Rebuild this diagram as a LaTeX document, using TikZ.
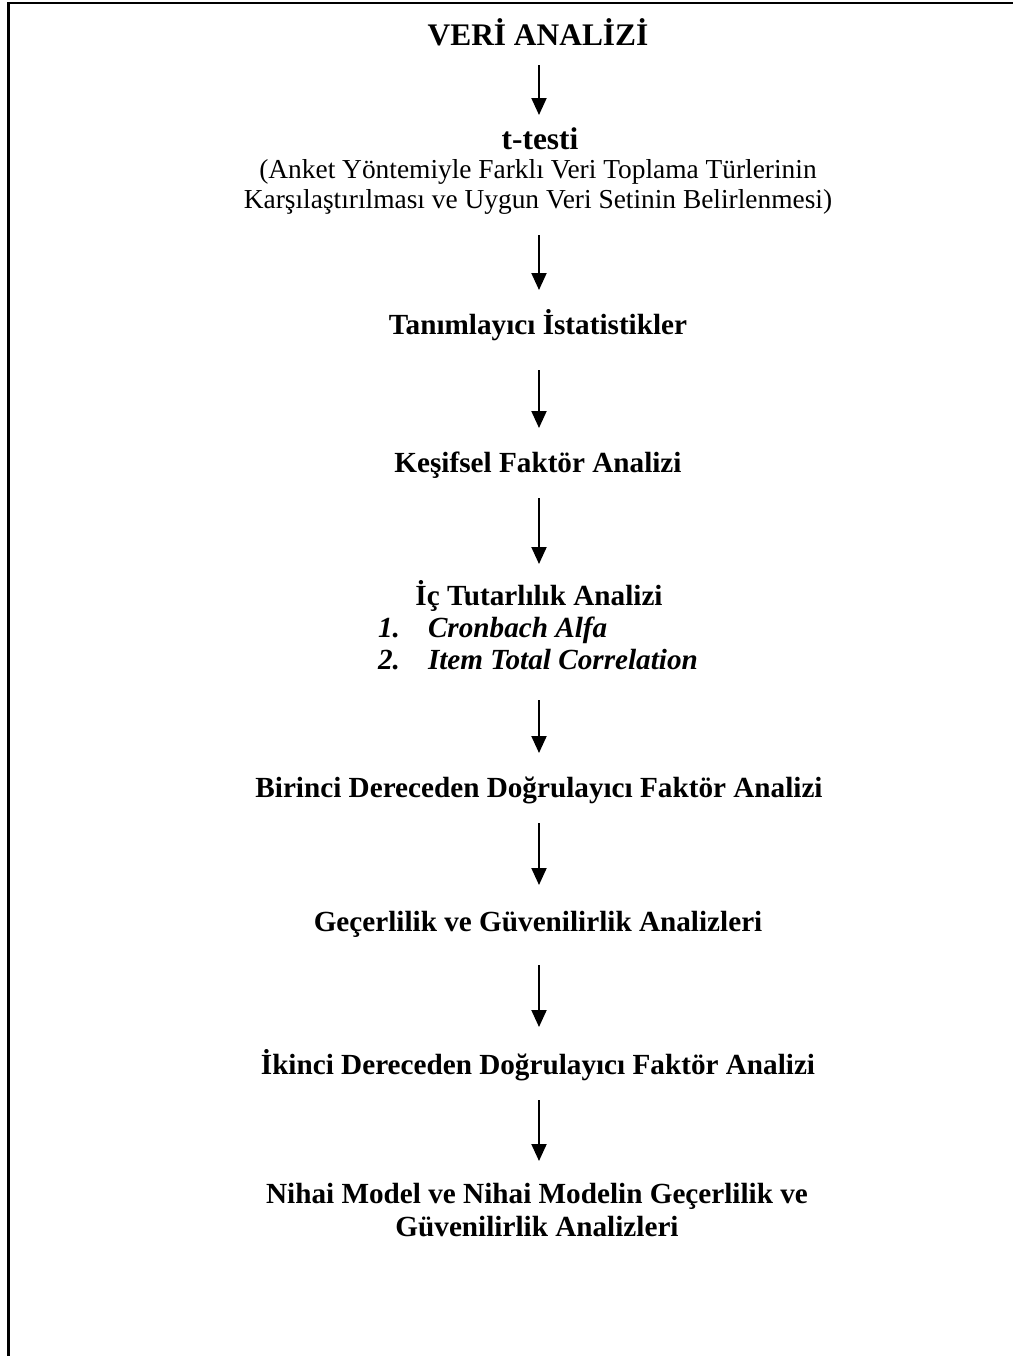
\documentclass[tikz,border=0pt]{standalone}
\usepackage{fontspec}
\setmainfont{Liberation Serif}
\usetikzlibrary{arrows.meta}

\begin{document}
\begin{tikzpicture}[x=0.5pt,y=-0.5pt,
  every node/.style={inner sep=0pt,outer sep=0pt},
  headtext/.style={anchor=base,font=\fontsize{15.7}{18}\selectfont\bfseries},
  steptext/.style={anchor=base,align=center,font=\fontsize{14.6}{16.5}\selectfont\bfseries},
  notetext/.style={anchor=base,align=center,font=\fontsize{13.7}{15}\selectfont},
  itemtext/.style={anchor=base west,font=\fontsize{14.6}{16.5}\selectfont\bfseries\itshape},
  flow/.style={line width=1pt,-{Triangle[width=7.5pt,length=8.5pt]}},
  frame/.style={line width=1.3pt}]

% page area and the open frame (top and left edges)
\useasboundingbox (0,0) rectangle (1013,1356);
\draw[frame] (8.5,1356) -- (8.5,3) -- (1013,3);

% stages of the analysis (multi-line nodes sit on their last baseline)
\node[headtext] (title) at (538,45) {VERİ ANALİZİ};
\node[headtext] (ttest) at (540,149) {t-testi};
\node[notetext] (anket) at (538,208) {(Anket Yöntemiyle Farklı Veri Toplama Türlerinin\\Karşılaştırılması ve Uygun Veri Setinin Belirlenmesi)};
\node[steptext] (tanim) at (538,334) {Tanımlayıcı İstatistikler};
\node[steptext] (kesif) at (538,472) {Keşifsel Faktör Analizi};
\node[steptext] (ictut) at (539,605) {İç Tutarlılık Analizi};
\node[itemtext] (num1) at (378,637) {1.};
\node[itemtext] (cron) at (428,637) {Cronbach Alfa};
\node[itemtext] (num2) at (378,669) {2.};
\node[itemtext] (itot) at (428,669) {Item Total Correlation};
\node[steptext] (birinci) at (539,797) {Birinci Dereceden Doğrulayıcı Faktör Analizi};
\node[steptext] (gecer) at (538,931) {Geçerlilik ve Güvenilirlik Analizleri};
\node[steptext] (ikinci) at (538,1074) {İkinci Dereceden Doğrulayıcı Faktör Analizi};
\node[steptext] (nihai) at (537,1236) {Nihai Model ve Nihai Modelin Geçerlilik ve\\Güvenilirlik Analizleri};

% arrow ends between consecutive stages
\coordinate (s1) at (539,65);   \coordinate (e1) at (539,115);
\coordinate (s2) at (539,235);  \coordinate (e2) at (539,290);
\coordinate (s3) at (539,370);  \coordinate (e3) at (539,428);
\coordinate (s4) at (539,498);  \coordinate (e4) at (539,564);
\coordinate (s5) at (539,700);  \coordinate (e5) at (539,753);
\coordinate (s6) at (539,823);  \coordinate (e6) at (539,885);
\coordinate (s7) at (539,965);  \coordinate (e7) at (539,1027);
\coordinate (s8) at (539,1100); \coordinate (e8) at (539,1161);

\foreach \i in {1,...,8} \draw[flow] (s\i) -- (e\i);
\end{tikzpicture}
\end{document}
